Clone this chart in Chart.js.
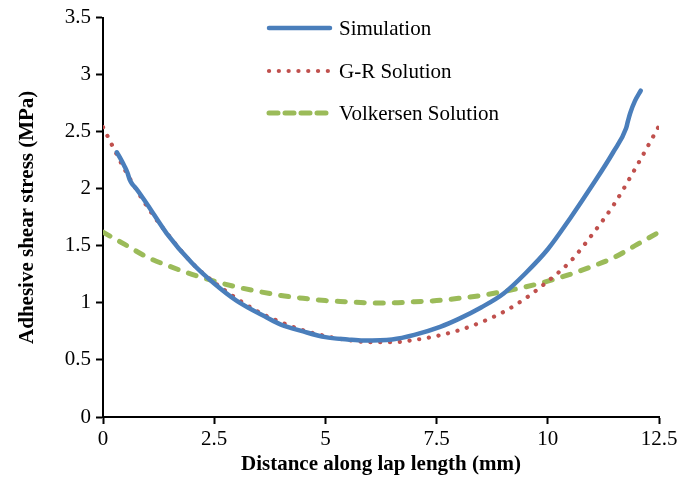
<!DOCTYPE html>
<html><head><meta charset="utf-8">
<script src="https://cdn.jsdelivr.net/npm/chart.js@4"></script>
<style>html,body{margin:0;padding:0;background:#fff}#wrap{width:688px;height:491px}</style>
</head><body><div id="wrap"><canvas id="c" width="688" height="491"></canvas></div>
<script>
const xTicks = [0, 2.5, 5, 7.5, 10, 12.5];
const yTicks = [0, 0.5, 1, 1.5, 2, 2.5, 3, 3.5];
const seriesNames = ["Simulation", "G-R Solution", "Volkersen Solution"];

const simX = [0.31,0.40,0.48,0.55,0.60,0.66,0.75,1.0,1.43,2.0,2.5,3.0,3.69,4.0,4.5,5.0,5.5,5.85,6.5,7.0,7.58,8.0,8.5,9.0,9.5,10.0,10.5,11.0,11.47,11.76,11.80,11.85,11.96,12.09];
const simY = [2.32,2.26,2.20,2.14,2.08,2.04,2.00,1.86,1.61,1.35,1.17,1.02,0.87,0.81,0.75,0.70,0.68,0.67,0.68,0.72,0.79,0.86,0.96,1.08,1.26,1.47,1.74,2.03,2.32,2.53,2.59,2.66,2.77,2.86];

const grX = [0,0.5,1,1.5,2,2.5,3,3.5,4,4.5,5,5.5,6,6.5,7,7.5,8,8.5,9,9.5,10,10.5,11,11.5,12,12.5];
const grY = [2.54,2.16,1.84,1.58,1.35,1.18,1.04,0.92,0.83,0.76,0.71,0.675,0.655,0.655,0.675,0.71,0.76,0.83,0.92,1.04,1.19,1.36,1.6,1.87,2.2,2.55];

const volX = [0,0.5,1,1.5,2,2.5,3,3.5,4,4.5,5,5.5,6,6.5,7,7.5,8,8.5,9,9.5,10,10.5,11,11.5,12,12.5];
const volY = [1.62,1.51,1.40,1.32,1.25,1.19,1.14,1.10,1.065,1.04,1.02,1.01,1.0,1.0,1.01,1.02,1.04,1.065,1.10,1.14,1.19,1.25,1.32,1.40,1.51,1.62];

const pts = (xs, ys) => xs.map((x, i) => ({x, y: ys[i]}));
const SERIF = "'Liberation Serif','Times New Roman',serif";

const legendPlugin = {
  id: 'customLegend',
  afterDraw(chart) {
    const ctx = chart.ctx;
    const rows = [28, 71, 113];
    chart.data.datasets.forEach((ds, i) => {
      const y = rows[i];
      ctx.save();
      ctx.strokeStyle = ds.borderColor;
      ctx.lineWidth = ds.borderWidth;
      ctx.lineCap = ds.borderCapStyle || 'butt';
      ctx.setLineDash(ds.legendDash || []);
      ctx.beginPath();
      ctx.moveTo(269, y);
      ctx.lineTo(330, y);
      ctx.stroke();
      ctx.setLineDash([]);
      ctx.fillStyle = '#000';
      ctx.font = "21px " + SERIF;
      ctx.textBaseline = 'middle';
      ctx.fillText(ds.label, 339, y + 1);
      ctx.restore();
    });
  }
};

new Chart(document.getElementById('c'), {
  type: 'scatter',
  data: {
    datasets: [
      {label: seriesNames[0], data: pts(simX, simY), showLine: true, borderColor: '#4A7EBB', borderWidth: 4.5, borderCapStyle: 'round', borderJoinStyle: 'round', pointRadius: 0, cubicInterpolationMode: 'monotone', legendDash: []},
      {label: seriesNames[1], data: pts(grX, grY), showLine: true, borderColor: '#C0504D', borderWidth: 4.2, borderCapStyle: 'round', borderDash: [0.1, 9.7], pointRadius: 0, cubicInterpolationMode: 'monotone', legendDash: [0.1, 9.7]},
      {label: seriesNames[2], data: pts(volX, volY), showLine: true, borderColor: '#9BBB59', borderWidth: 5, borderCapStyle: 'round', borderDash: [8, 11], pointRadius: 0, cubicInterpolationMode: 'monotone', legendDash: [9, 7]}
    ]
  },
  options: {
    responsive: false,
    animation: false,
    layout: {padding: {left: 15, top: 17, right: 29, bottom: 14}},
    plugins: {legend: {display: false}, tooltip: {enabled: false}},
    scales: {
      x: {
        type: 'linear', min: 0, max: 12.5,
        afterBuildTicks: s => { s.ticks = xTicks.map(v => ({value: v})); },
        afterFit: s => { s.height = 60; },
        ticks: {color: '#000', font: {family: SERIF, size: 21}, padding: 3, callback: v => String(v)},
        grid: {display: true, drawOnChartArea: false, drawTicks: true, tickLength: 7, color: '#000', tickWidth: 2},
        border: {display: true, color: '#000', width: 2},
        title: {display: true, text: 'Distance along lap length (mm)', color: '#000', font: {family: SERIF, size: 21, weight: 'bold'}, padding: {top: 0, bottom: 0}}
      },
      y: {
        type: 'linear', min: 0, max: 3.5,
        afterBuildTicks: s => { s.ticks = yTicks.map(v => ({value: v})); },
        afterFit: s => { s.width = 88; },
        ticks: {color: '#000', font: {family: SERIF, size: 21}, padding: 5, callback: v => String(v)},
        grid: {display: true, drawOnChartArea: false, drawTicks: true, tickLength: 7, color: '#000', tickWidth: 2},
        border: {display: true, color: '#000', width: 2},
        title: {display: true, text: 'Adhesive shear stress (MPa)', color: '#000', font: {family: SERIF, size: 21, weight: 'bold'}, padding: {top: 0, bottom: 0}}
      }
    }
  },
  plugins: [legendPlugin]
});
</script></body></html>
